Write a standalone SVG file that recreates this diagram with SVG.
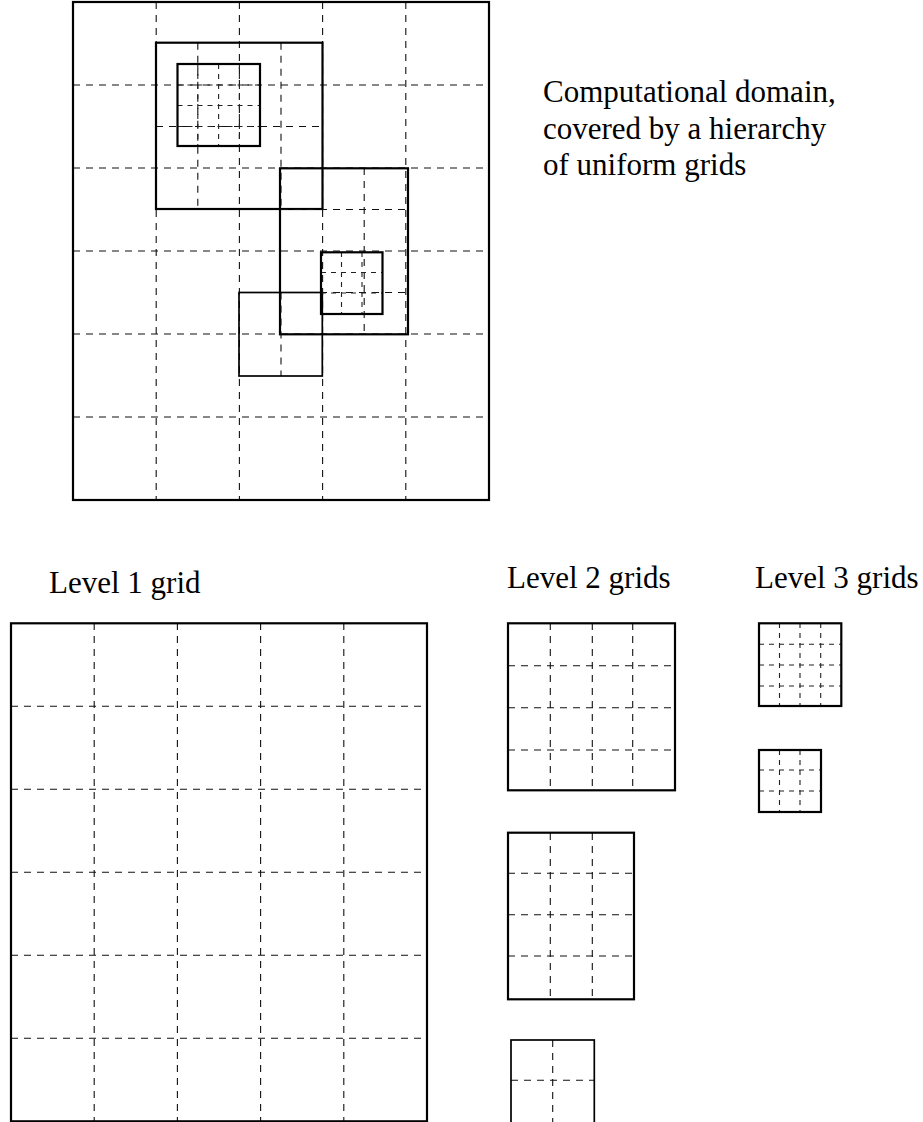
<svg xmlns="http://www.w3.org/2000/svg" width="923" height="1122" viewBox="0 0 923 1122">
<style>
.bg{fill:#fff}
.frame{fill:none;stroke:#000;stroke-width:2.2}
.thin{fill:none;stroke:#000;stroke-width:1.7}
.d{fill:none;stroke:#111;stroke-width:1.1;stroke-dasharray:7 6}
.d3{fill:none;stroke:#222;stroke-width:1.1;stroke-dasharray:5 5}
.t{font-family:"Liberation Serif","Times New Roman",serif;font-size:31px;fill:#000}
</style>
<rect class="bg" x="0" y="0" width="923" height="1122"/>

<g id="domain">
  <path class="d" d="M156.2 2V500M239.4 2V500M322.6 2V500M405.8 2V500M73 85H489M73 168H489M73 251H489M73 334H489M73 417H489"/>
  <g id="domain-level2-a">
    <path class="d" d="M197.8 42.7V209M281 42.7V209M156 126.5H322"/>
    <rect class="frame" x="156" y="42.7" width="166.5" height="166.3"/>
  </g>
  <g id="domain-level2-b">
    <path class="d" d="M364.2 168V334M281 209.5H406M281 292.5H406"/>
    <rect class="frame" x="280" y="168.3" width="128" height="166"/>
  </g>
  <g id="domain-level2-c">
    <path class="d" d="M281 292.5V376"/>
    <rect class="thin" x="239" y="292.5" width="83.3" height="83.5"/>
  </g>
  <g id="domain-level3-a">
    <path class="d3" d="M197.8 64V146M218.6 64V146M239.4 64V146M177.5 85H260M177.5 105.5H260M177.5 126.5H260"/>
    <rect class="frame" x="177.5" y="64" width="82.5" height="82"/>
  </g>
  <g id="domain-level3-b">
    <path class="d3" d="M341.5 252V314M362 252V314M321 272.5H383M321 293H383"/>
    <rect class="frame" x="321" y="252.3" width="61.5" height="61.7"/>
  </g>
  <rect class="frame" x="73" y="2" width="416" height="498"/>
</g>

<g id="caption">
  <text class="t" x="543" y="102">Computational domain,</text>
  <text class="t" x="543" y="139">covered by a hierarchy</text>
  <text class="t" x="543" y="175">of uniform grids</text>
</g>

<g id="level1">
  <text class="t" x="49" y="593">Level 1 grid</text>
  <path class="d" d="M94.2 623V1121M177.4 623V1121M260.6 623V1121M343.8 623V1121M11 706.3H427M11 789.3H427M11 872.3H427M11 955.3H427M11 1038.3H427"/>
  <rect class="frame" x="11" y="623.3" width="416" height="498"/>
</g>

<g id="level2">
  <text class="t" x="507" y="588">Level 2 grids</text>
  <g id="level2-a">
    <path class="d" d="M550.3 623V790M592.3 623V790M632.7 623V790M508 665.7H675M508 707.7H675M508 750H675"/>
    <rect class="frame" x="508" y="623.3" width="167" height="167"/>
  </g>
  <g id="level2-b">
    <path class="d" d="M550.3 833V999M592.3 833V999M508 873.3H634M508 914.7H634M508 956H634"/>
    <rect class="frame" x="508" y="832.7" width="126" height="166.6"/>
  </g>
  <g id="level2-c">
    <path class="d" d="M552.7 1040V1123M511 1080.3H594"/>
    <rect class="thin" x="511" y="1040" width="83.3" height="84"/>
  </g>
</g>

<g id="level3">
  <text class="t" x="755" y="588">Level 3 grids</text>
  <g id="level3-a">
    <path class="d3" d="M779.5 623V706M800 623V706M820.7 623V706M759 644.3H841M759 665H841M759 686H841"/>
    <rect class="frame" x="759" y="623.3" width="82.3" height="82.7"/>
  </g>
  <g id="level3-b">
    <path class="d3" d="M779.5 750V812M800 750V812M759 770H821M759 791H821"/>
    <rect class="frame" x="759" y="750" width="62" height="62"/>
  </g>
</g>
</svg>
